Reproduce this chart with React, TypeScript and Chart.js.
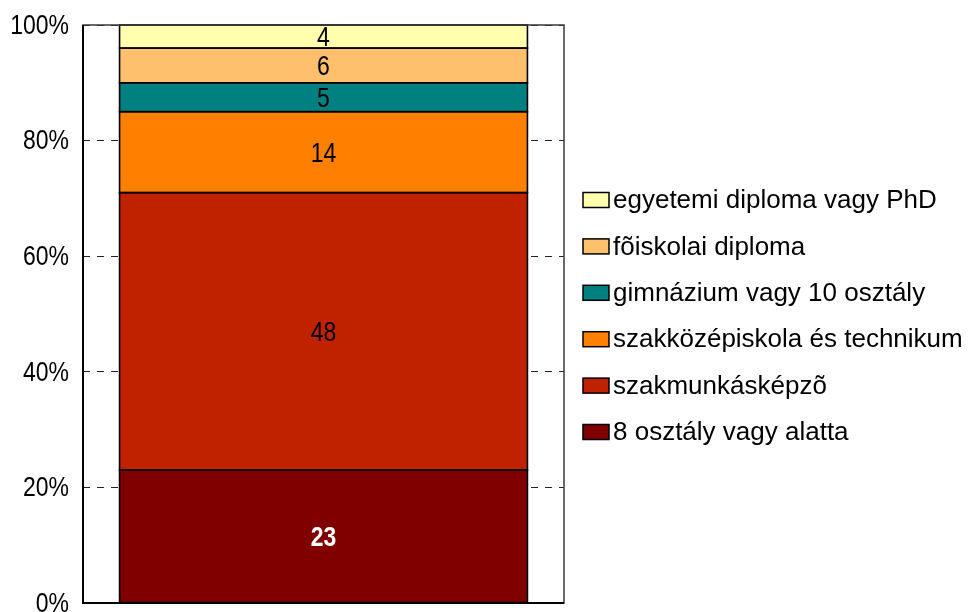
import React, { useEffect, useRef } from "react";
import { Chart, registerables } from "chart.js";

Chart.register(...registerables);

const categories = [""];
const seriesNames = [
  "8 osztály vagy alatta",
  "szakmunkásképzõ",
  "szakközépiskola és technikum",
  "gimnázium vagy 10 osztály",
  "fõiskolai diploma",
  "egyetemi diploma vagy PhD",
];
const seriesValues = [[23], [48], [14], [5], [6], [4]];
const seriesColors = ["#800000", "#C02200", "#FF8000", "#008080", "#FFC06E", "#FFFFAE"];
const valueLabelColors = ["#FFFFFF", "#000000", "#000000", "#000000", "#000000", "#000000"];
const valueLabelBold = [true, false, false, false, false, false];
const yTickStep = 20;
const yMax = 100;

const REGULAR = "'Liberation Sans', Arial, sans-serif";
const NARROW_SCALE = 0.82;

function narrowText(ctx: any, text: string, x: number, y: number, align: string) {
  ctx.save();
  ctx.translate(x, y);
  ctx.scale(NARROW_SCALE, 1);
  ctx.textAlign = align;
  ctx.fillText(text, 0, 0);
  ctx.restore();
}

const framePlugin = {
  id: "frame",
  afterDraw(chart: any) {
    const { ctx, chartArea: a } = chart;
    ctx.save();
    ctx.strokeStyle = "#3a3a3a";
    ctx.lineWidth = 1.5;
    ctx.strokeRect(a.left, a.top, a.right - a.left, a.bottom - a.top);
    ctx.strokeStyle = "#000000";
    ctx.lineWidth = 2;
    ctx.beginPath();
    ctx.moveTo(a.left, a.top);
    ctx.lineTo(a.left, a.bottom);
    ctx.lineTo(a.right, a.bottom);
    ctx.stroke();
    ctx.restore();
  },
};

const yLabelPlugin = {
  id: "yLabels",
  afterDraw(chart: any) {
    const { ctx } = chart;
    const scale = chart.scales.y;
    ctx.save();
    ctx.fillStyle = "#000000";
    ctx.font = `28px ${REGULAR}`;
    ctx.textBaseline = "middle";
    scale.ticks.forEach((t: any) => {
      const y = scale.getPixelForValue(t.value);
      narrowText(ctx, t.value + "%", scale.right - 14, y + 1, "right");
    });
    ctx.restore();
  },
};

const valueLabelPlugin = {
  id: "valueLabels",
  afterDatasetsDraw(chart: any) {
    const { ctx } = chart;
    ctx.save();
    // outlines of segments (centered, shared between neighbours)
    ctx.strokeStyle = "#000000";
    ctx.lineWidth = 1.6;
    chart.data.datasets.forEach((ds: any, i: number) => {
      const meta = chart.getDatasetMeta(i);
      meta.data.forEach((el: any) => {
        const w = el.width;
        ctx.strokeRect(el.x - w / 2, el.y, w, el.base - el.y);
      });
    });
    ctx.textBaseline = "middle";
    chart.data.datasets.forEach((ds: any, i: number) => {
      const meta = chart.getDatasetMeta(i);
      meta.data.forEach((el: any, j: number) => {
        const v = ds.data[j];
        const cy = (el.y + el.base) / 2;
        ctx.font = `${valueLabelBold[i] ? "bold " : ""}28px ${REGULAR}`;
        ctx.fillStyle = valueLabelColors[i];
        narrowText(ctx, String(v), el.x, cy + 2, "center");
      });
    });
    ctx.restore();
  },
};

const sideLegendPlugin = {
  id: "sideLegend",
  afterDraw(chart: any) {
    const { ctx, chartArea: a } = chart;
    const ds = chart.data.datasets;
    const n = ds.length;
    const spacing = 46.4;
    const centerY = (a.top + a.bottom) / 2 + 2;
    const startY = centerY - ((n - 1) * spacing) / 2;
    const boxX = a.right + 19;
    const boxW = 26;
    const boxH = 15;
    ctx.save();
    ctx.textAlign = "left";
    ctx.textBaseline = "middle";
    ctx.font = `26px ${REGULAR}`;
    for (let k = 0; k < n; k++) {
      const i = n - 1 - k;
      const y = startY + k * spacing;
      ctx.fillStyle = ds[i].backgroundColor;
      ctx.fillRect(boxX, y - boxH / 2, boxW, boxH);
      ctx.strokeStyle = "#000000";
      ctx.lineWidth = 1.5;
      ctx.strokeRect(boxX, y - boxH / 2, boxW, boxH);
      ctx.fillStyle = "#000000";
      ctx.fillText(ds[i].label, boxX + boxW + 4, y + 1);
    }
    ctx.restore();
  },
};

export default function App() {
  const ref = useRef<HTMLCanvasElement | null>(null);
  useEffect(() => {
    document.body.style.margin = "0";
    const canvas = ref.current;
    if (!canvas) return;
    const chart = new Chart(canvas, {
      type: "bar",
      data: {
        labels: categories,
        datasets: seriesNames.map((name, i) => ({
          label: name,
          data: seriesValues[i],
          backgroundColor: seriesColors[i],
          borderWidth: 0,
          categoryPercentage: 1,
          barPercentage: 0.848,
        })),
      },
      options: {
        responsive: false,
        animation: false,
        layout: { padding: { left: 0, top: 25, right: 404, bottom: 9 } },
        plugins: {
          legend: { display: false },
          tooltip: { enabled: false },
        },
        scales: {
          x: { stacked: true, display: false },
          y: {
            stacked: true,
            min: 0,
            max: yMax,
            ticks: {
              stepSize: yTickStep,
              display: false,
            },
            grid: { color: "#222222", lineWidth: 1, drawTicks: false, tickLength: 0 },
            border: { display: false, dash: [7, 7] },
            afterFit: (scale: any) => {
              scale.width = 83;
              scale.paddingTop = 0;
              scale.paddingBottom = 0;
            },
          },
        },
      },
      plugins: [framePlugin, valueLabelPlugin, yLabelPlugin, sideLegendPlugin],
    });
    return () => chart.destroy();
  }, []);
  return (
    <div style={{ width: 968, height: 612 }}>
      <canvas ref={ref} width={968} height={612} style={{ display: "block" }} />
    </div>
  );
}
